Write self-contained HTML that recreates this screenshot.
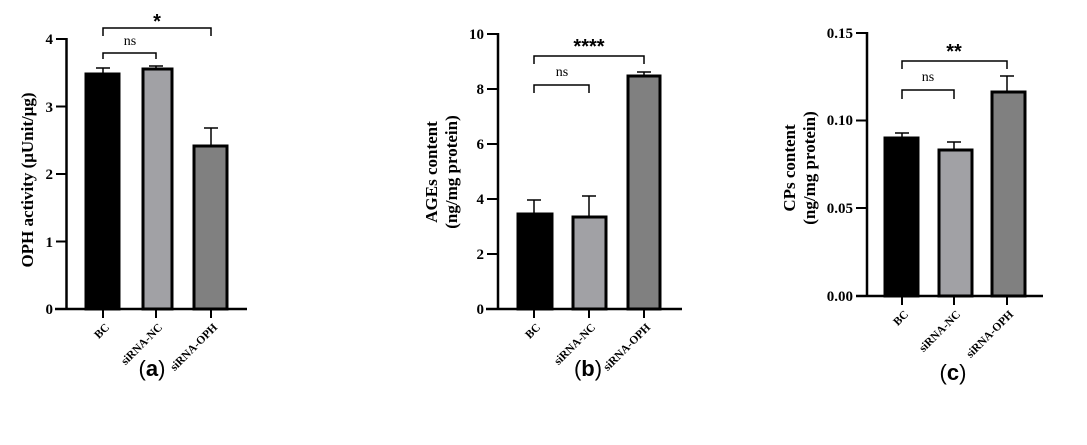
<!DOCTYPE html>
<html><head><meta charset="utf-8"><style>
html,body{margin:0;padding:0;background:#fff}
svg{display:block}
.t{font-family:"Liberation Serif",serif;font-weight:bold;font-size:15px;fill:#000}
.c{font-family:"Liberation Serif",serif;font-weight:bold;font-size:11.5px;fill:#000}
.ns{font-family:"Liberation Serif",serif;font-size:14px;fill:#000}
.st{font-family:"Liberation Sans",sans-serif;font-size:20px;font-weight:bold;fill:#000}
.p{font-family:"Liberation Sans",sans-serif;font-size:22px;fill:#000}
.yl{font-family:"Liberation Serif",serif;font-weight:bold;font-size:17px;fill:#000}
</style></head><body>
<svg width="1087" height="445" viewBox="0 0 1087 445" xmlns="http://www.w3.org/2000/svg">
<g stroke="#000" fill="none">
<line x1="66.5" y1="38" x2="66.5" y2="310" stroke-width="2.5"/>
<line x1="55" y1="309" x2="247" y2="309" stroke-width="2.5"/>
<g stroke-width="2"><line x1="56" y1="39" x2="66" y2="39"/><line x1="56" y1="106.5" x2="66" y2="106.5"/><line x1="56" y1="174" x2="66" y2="174"/><line x1="56" y1="241.5" x2="66" y2="241.5"/>
<line x1="103" y1="309" x2="103" y2="318"/><line x1="156" y1="309" x2="156" y2="318"/><line x1="211" y1="309" x2="211" y2="318"/></g>
<g stroke-width="1.5"><line x1="103" y1="74" x2="103" y2="68"/><line x1="96" y1="68" x2="110" y2="68"/>
<line x1="156" y1="69" x2="156" y2="66"/><line x1="149" y1="66" x2="163" y2="66"/>
<line x1="211" y1="146" x2="211" y2="128"/><line x1="204" y1="128" x2="218" y2="128"/>
<polyline points="103,59 103,53 156,53 156,59"/><polyline points="103,36 103,28 211,28 211,36"/></g>
<rect x="86" y="74" width="33" height="235" fill="#000" stroke-width="3"/>
<rect x="143" y="69" width="29" height="240" fill="#a1a1a5" stroke-width="3"/>
<rect x="194" y="146" width="33" height="163" fill="#808080" stroke-width="3"/>
<line x1="498" y1="33" x2="498" y2="310" stroke-width="2.5"/>
<line x1="486" y1="309" x2="682" y2="309" stroke-width="2.5"/>
<g stroke-width="2"><line x1="487" y1="34" x2="498" y2="34"/><line x1="487" y1="89" x2="498" y2="89"/><line x1="487" y1="144" x2="498" y2="144"/><line x1="487" y1="199" x2="498" y2="199"/><line x1="487" y1="254" x2="498" y2="254"/>
<line x1="534" y1="309" x2="534" y2="318"/><line x1="589" y1="309" x2="589" y2="318"/><line x1="644" y1="309" x2="644" y2="318"/></g>
<g stroke-width="1.5"><line x1="534" y1="213" x2="534" y2="200"/><line x1="527" y1="200" x2="541" y2="200"/>
<line x1="589" y1="216" x2="589" y2="196"/><line x1="582" y1="196" x2="596" y2="196"/>
<line x1="644" y1="76" x2="644" y2="72"/><line x1="637" y1="72" x2="651" y2="72"/>
<polyline points="534,93 534,85 589,85 589,93"/><polyline points="534,64 534,56 644,56 644,64"/></g>
<rect x="518" y="214" width="34" height="95" fill="#000" stroke-width="3"/>
<rect x="573" y="217" width="33" height="92" fill="#a1a1a5" stroke-width="3"/>
<rect x="628" y="76" width="32" height="233" fill="#808080" stroke-width="3"/>
<line x1="867" y1="32" x2="867" y2="297" stroke-width="2.5"/>
<line x1="856" y1="296" x2="1043" y2="296" stroke-width="2.5"/>
<g stroke-width="2"><line x1="856" y1="33" x2="867" y2="33"/><line x1="856" y1="120.5" x2="867" y2="120.5"/><line x1="856" y1="208" x2="867" y2="208"/>
<line x1="902" y1="296" x2="902" y2="305"/><line x1="954" y1="296" x2="954" y2="305"/><line x1="1007" y1="296" x2="1007" y2="305"/></g>
<g stroke-width="1.5"><line x1="902" y1="138" x2="902" y2="133"/><line x1="895" y1="133" x2="909" y2="133"/>
<line x1="954" y1="150" x2="954" y2="142"/><line x1="947" y1="142" x2="961" y2="142"/>
<line x1="1007" y1="92" x2="1007" y2="76"/><line x1="1000" y1="76" x2="1014" y2="76"/>
<polyline points="902,99 902,90 954,90 954,99"/><polyline points="902,69 902,61 1007,61 1007,69"/></g>
<rect x="885" y="138" width="33" height="158" fill="#000" stroke-width="3"/>
<rect x="939" y="150" width="33" height="146" fill="#a1a1a5" stroke-width="3"/>
<rect x="992" y="92" width="33" height="204" fill="#808080" stroke-width="3"/>
</g>
<g class="t" text-anchor="end">
<text x="53" y="44">4</text><text x="53" y="112">3</text><text x="53" y="179">2</text><text x="53" y="247">1</text><text x="53" y="314">0</text>
<text x="484" y="39">10</text><text x="484" y="94">8</text><text x="484" y="149">6</text><text x="484" y="204">4</text><text x="484" y="259">2</text><text x="484" y="314">0</text>
<text x="853" y="38">0.15</text><text x="853" y="125">0.10</text><text x="853" y="213">0.05</text><text x="853" y="301">0.00</text>
</g>
<g class="c" text-anchor="end">
<text transform="translate(110,328) rotate(-45)">BC</text>
<text transform="translate(163,328) rotate(-45)">siRNA-NC</text>
<text transform="translate(218,328) rotate(-45)">siRNA-OPH</text>
<text transform="translate(541,328) rotate(-45)">BC</text>
<text transform="translate(596,328) rotate(-45)">siRNA-NC</text>
<text transform="translate(651,328) rotate(-45)">siRNA-OPH</text>
<text transform="translate(909,315) rotate(-45)">BC</text>
<text transform="translate(961,315) rotate(-45)">siRNA-NC</text>
<text transform="translate(1014,315) rotate(-45)">siRNA-OPH</text>
</g>
<g class="ns" text-anchor="middle">
<text x="130" y="45">ns</text><text x="562" y="76">ns</text><text x="928" y="81">ns</text>
</g>
<g class="st" text-anchor="middle">
<text x="157" y="28">*</text><text x="589" y="53">****</text><text x="954" y="58">**</text>
</g>
<g class="yl" text-anchor="middle">
<text transform="translate(33,180) rotate(-90)">OPH activity (μUnit/μg)</text>
<text transform="translate(437,172) rotate(-90)">AGEs content</text>
<text transform="translate(457,172) rotate(-90)">(ng/mg protein)</text>
<text transform="translate(795,168) rotate(-90)">CPs content</text>
<text transform="translate(815,168) rotate(-90)">(ng/mg protein)</text>
</g>
<g class="p" text-anchor="middle">
<text x="152" y="376">(<tspan font-weight="bold">a</tspan>)</text>
<text x="588" y="376">(<tspan font-weight="bold">b</tspan>)</text>
<text x="953" y="380">(<tspan font-weight="bold">c</tspan>)</text>
</g>
</svg>
</body></html>
